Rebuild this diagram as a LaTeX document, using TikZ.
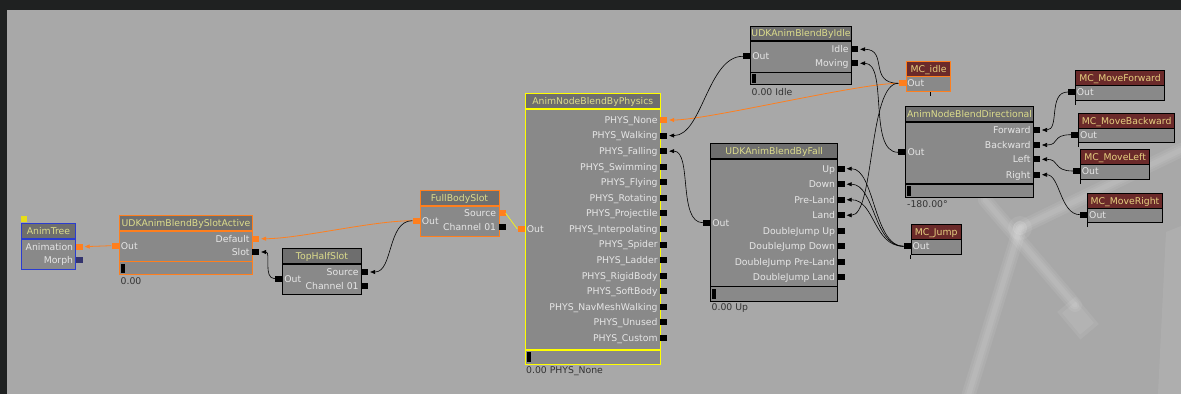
\documentclass[tikz,border=0pt]{standalone}
\usepackage{fontspec}
\setmainfont{DejaVu Sans}
\usetikzlibrary{arrows.meta}

\definecolor{canvas}{HTML}{A8A8A8}
\definecolor{framedark}{HTML}{1F2121}
\definecolor{bodygray}{HTML}{898989}
\definecolor{bargray}{HTML}{8E8E8E}
\definecolor{titlegray}{HTML}{6E6E6E}
\definecolor{titletext}{HTML}{DCDC8C}
\definecolor{labeltext}{HTML}{E6E6E6}
\definecolor{mcred}{HTML}{6B2A2A}
\definecolor{mctext}{HTML}{E6D080}
\definecolor{linkorange}{HTML}{FF7F1E}
\definecolor{hiyellow}{HTML}{FFFF00}
\definecolor{treeblue}{HTML}{2A3CD0}
\definecolor{morphblue}{HTML}{34346E}
\definecolor{valuetext}{HTML}{333333}

\tikzset{
  box/.style={anchor=north west, fill=bodygray, inner sep=0pt, line width=1pt},
  titlebar/.style={anchor=north west, fill=titlegray, text=titletext, inner sep=0pt,
    minimum height=15pt, line width=1pt, text height=6.8pt, text depth=0pt},
  mctitle/.style={titlebar, fill=mcred, text=mctext},
  pin/.style={fill=black, inner sep=0pt, minimum width=7pt, minimum height=6pt},
  opin/.style={pin, fill=linkorange},
  lbl/.style={text=labeltext, inner sep=0pt, text height=6.8pt, text depth=0pt},
  val/.style={text=valuetext, inner sep=0pt, anchor=west, text height=6.8pt, text depth=0pt},
  link/.style={draw=black, line width=0.6pt, -{Triangle[length=5pt,width=4pt]}, shorten >=2pt},
  olink/.style={link, draw=linkorange, line width=0.8pt},
  tick/.style={draw=black, line width=0.8pt},
}

\begin{document}
\begin{tikzpicture}[x=1pt, y=-1pt, font=\fontsize{9.3}{11}\selectfont]
\useasboundingbox (0,0) rectangle (1181,394);
\fill[framedark] (0,0) rectangle (1181,394);
\fill[canvas] (7,10) rectangle (1181,394);
% faint mesh behind the graph
\begin{scope}[white, opacity=0.07, line cap=round]
	\foreach \lw in {14,9,5}{
	\draw[line width=\lw pt] (967,400) -- (1020,228);
	\draw[line width=\lw pt] (1020,228) -- (1181,150);
	\draw[line width=\lw pt] (985,200) -- (1075,305);
	}
	\fill[rotate around={40:(1078,318)}] (1066,300) rectangle (1090,336);
	\fill[rotate around={40:(1078,318)}] (1069,304) rectangle (1087,332);
	\fill (1158,394) -- (1166,232) -- (1181,226) -- (1181,394) -- cycle;
	\fill (1020,228) circle (12);
	\fill (1020,228) circle (7);
\end{scope}

% AnimTree
\fill[yellow!90!black] (20.5,215.5) rectangle (26.5,222);
\node[box, draw=treeblue, minimum width=54pt, minimum height=46pt] (tree) at (21,223) {};
\node[titlebar, draw=treeblue, minimum width=54pt, minimum height=14.5pt] (tree-t) at (tree.north west) {AnimTree};
\draw[treeblue, line width=2pt] (tree-t.south west) -- (tree-t.south east);
\node[opin] (tree-anim) at (79,246.7) {};
\node[pin, fill=morphblue] (tree-morph) at (79,260.3) {};
\node[lbl, anchor=east] at ([xshift=-2pt]tree-anim.west) {Animation};
\node[lbl, anchor=east] at ([xshift=-2pt]tree-morph.west) {Morph};

% UDKAnimBlendBySlotActive
\node[box, draw=linkorange, minimum width=133pt, minimum height=59pt] (slotact) at (119,215) {};
\node[titlebar, draw=linkorange, minimum width=133pt] (slotact-t) at (slotact.north west) {UDKAnimBlendBySlotActive};
\draw[linkorange, line width=2pt] (slotact-t.south west) -- (slotact-t.south east);
\draw[linkorange, line width=1.5pt] (119,261.7) -- (252,261.7);
\fill (121,263.5) rectangle (125,273);
\node[opin] (slotact-out) at (115,245.7) {};
\node[opin] (slotact-default) at (255.5,238.7) {};
\node[pin] (slotact-slot) at (255.5,252) {};
\node[lbl, anchor=west] at ([xshift=2pt]slotact-out.east) {Out};
\node[lbl, anchor=east] at ([xshift=-2pt]slotact-default.west) {Default};
\node[lbl, anchor=east] at ([xshift=-2pt]slotact-slot.west) {Slot};
\node[val] at (120.5,281) {0.00};

% TopHalfSlot
\node[box, draw=black, minimum width=79pt, minimum height=46pt] (tophalf) at (282,248) {};
\node[titlebar, draw=black, minimum width=79pt] (tophalf-t) at (tophalf.north west) {TopHalfSlot};
\draw[black, line width=2pt] (tophalf-t.south west) -- (tophalf-t.south east);
\node[pin] (tophalf-out) at (278.5,278.7) {};
\node[pin] (tophalf-src) at (364.5,272) {};
\node[pin] (tophalf-ch) at (364.5,285.7) {};
\node[lbl, anchor=west] at ([xshift=2pt]tophalf-out.east) {Out};
\node[lbl, anchor=east] at ([xshift=-2pt]tophalf-src.west) {Source};
\node[lbl, anchor=east] at ([xshift=-2pt]tophalf-ch.west) {Channel 01};

% FullBodySlot
\node[box, draw=linkorange, minimum width=79pt, minimum height=46pt] (fullbody) at (419.5,190) {};
\node[titlebar, draw=linkorange, minimum width=79pt] (fullbody-t) at (fullbody.north west) {FullBodySlot};
\draw[linkorange, line width=2pt] (fullbody-t.south west) -- (fullbody-t.south east);
\node[opin] (fullbody-out) at (416,220.7) {};
\node[opin] (fullbody-src) at (502,213.3) {};
\node[pin] (fullbody-ch) at (502,227) {};
\node[lbl, anchor=west] at ([xshift=2pt]fullbody-out.east) {Out};
\node[lbl, anchor=east] at ([xshift=-2pt]fullbody-src.west) {Source};
\node[lbl, anchor=east] at ([xshift=-2pt]fullbody-ch.west) {Channel 01};

% AnimNodeBlendByPhysics
\node[box, draw=hiyellow, minimum width=135.5pt, minimum height=270.7pt] (phys) at (524.5,93.3) {};
\node[titlebar, draw=hiyellow, minimum width=135.5pt] (phys-t) at (phys.north west) {AnimNodeBlendByPhysics};
\draw[hiyellow, line width=2pt] (phys-t.south west) -- (phys-t.south east);
\draw[hiyellow, line width=1.5pt] (524.5,350) -- (660,350);
\fill (526.5,352) rectangle (530.5,362);
\node[opin] (phys-out) at (521,229) {};
\node[lbl, anchor=west] at ([xshift=2pt]phys-out.east) {Out};
\foreach \lab [count=\i] in {PHYS\_None, PHYS\_Walking, PHYS\_Falling, PHYS\_Swimming,
	PHYS\_Flying, PHYS\_Rotating, PHYS\_Projectile, PHYS\_Interpolating, PHYS\_Spider,
	PHYS\_Ladder, PHYS\_RigidBody, PHYS\_SoftBody, PHYS\_NavMeshWalking, PHYS\_Unused, PHYS\_Custom}{
	\node[pin] (phys-\i) at (663.5,{120+15.57*(\i-1)}) {};
	\node[lbl, anchor=east] at ([xshift=-2pt]phys-\i.west) {\lab};
}
\node[opin] at (phys-1) {};
\node[val] at (526,370) {0.00 PHYS\_None};

% UDKAnimBlendByIdle
\node[box, draw=black, minimum width=101pt, minimum height=58.3pt] (idle) at (750,26) {};
\node[titlebar, draw=black, minimum width=101pt, minimum height=14pt] (idle-t) at (idle.north west) {UDKAnimBlendByIdle};
\draw[black, line width=2pt] (idle-t.south west) -- (idle-t.south east);
\draw[black, line width=1.5pt] (750,72.3) -- (851,72.3);
\fill (751.5,73.5) rectangle (755.5,83);
\node[pin] (idle-out) at (746.5,56.3) {};
\node[pin] (idle-idle) at (854.5,49.3) {};
\node[pin] (idle-moving) at (854.5,63.3) {};
\node[lbl, anchor=west] at ([xshift=2pt]idle-out.east) {Out};
\node[lbl, anchor=east] at ([xshift=-2pt]idle-idle.west) {Idle};
\node[lbl, anchor=east] at ([xshift=-2pt]idle-moving.west) {Moving};
\node[val] at (751.5,91.7) {0.00 Idle};

% UDKAnimBlendByFall
\node[box, draw=black, minimum width=127.3pt, minimum height=157.4pt] (fall) at (710,143.3) {};
\node[titlebar, draw=black, minimum width=127.3pt] (fall-t) at (fall.north west) {UDKAnimBlendByFall};
\draw[black, line width=2pt] (fall-t.south west) -- (fall-t.south east);
\draw[black, line width=1.5pt] (710,286.7) -- (837.3,286.7);
\fill (711.5,288.5) rectangle (715.5,299);
\node[pin] (fall-out) at (706.5,222.7) {};
\node[lbl, anchor=west] at ([xshift=2pt]fall-out.east) {Out};
\foreach \lab [count=\i] in {Up, Down, Pre-Land, Land, DoubleJump Up, DoubleJump Down,
	DoubleJump Pre-Land, DoubleJump Land}{
	\node[pin] (fall-\i) at (841,{168.7+15.52*(\i-1)}) {};
	\node[lbl, anchor=east] at ([xshift=-2pt]fall-\i.west) {\lab};
}
\node[val] at (711.5,307.3) {0.00 Up};

% AnimNodeBlendDirectional
\node[box, draw=black, minimum width=127.4pt, minimum height=91pt] (dir) at (905.3,105.7) {};
\node[titlebar, draw=black, minimum width=127.4pt] (dir-t) at (dir.north west) {AnimNodeBlendDirectional};
\draw[black, line width=2pt] (dir-t.south west) -- (dir-t.south east);
\draw[black, line width=1.5pt] (905.3,184) -- (1032.7,184);
\fill (907,185.5) rectangle (911,195.5);
\node[pin] (dir-out) at (901.7,152.3) {};
\node[lbl, anchor=west] at ([xshift=2pt]dir-out.east) {Out};
\foreach \lab/\y [count=\i] in {Forward/130, Backward/145, Left/159.3, Right/174.7}{
	\node[pin] (dir-\i) at (1036.3,\y) {};
	\node[lbl, anchor=east] at ([xshift=-2pt]dir-\i.west) {\lab};
}
\node[val] at (907,204) {-180.00°};

% MC nodes
\node[box, draw=linkorange, minimum width=44.6pt, minimum height=30.3pt] (mcidle) at (905.7,60.7) {};
\node[mctitle, draw=linkorange, minimum width=44.6pt] at (mcidle.north west) {MC\_idle};
\node[opin] (mcidle-out) at (902,83.3) {};
\node[lbl, anchor=west] at ([xshift=1.5pt]mcidle-out.east) {Out};
\draw[tick] ([xshift=25pt]mcidle.south west) -- +(0,4);
\foreach \nm/\txt/\x/\y/\w in {mcfwd/MC\_MoveForward/1075/70/89, mcback/MC\_MoveBackward/1078.3/112.7/95.7,
	mcleft/MC\_MoveLeft/1080/149/69.3, mcright/MC\_MoveRight/1087.3/192.7/74.4, mcjump/MC\_Jump/910.7/224.3/50}{
	\node[box, draw=black, minimum width=\w pt, minimum height=29.5pt] (\nm) at (\x,\y) {};
	\node[mctitle, draw=black, minimum width=\w pt] at (\nm.north west) {\txt};
	\node[pin] (\nm-out) at ([xshift=-3.5pt, yshift=-22pt]\nm.north west) {};
	\node[lbl, anchor=west] at ([xshift=1.5pt]\nm-out.east) {Out};
	\draw[tick] (\nm.south west) -- +(0,4);
}

% links
\draw[olink] (slotact-out.west) -- (tree-anim.east);
\draw[olink] (fullbody-out.west) .. controls +(-40,0) and +(40,0) .. (slotact-default.east);
\draw[link] (tophalf-out.west) .. controls +(-12,0) and +(12,0) .. (slotact-slot.east);
\draw[link] (fullbody-out.west) .. controls +(-25,0) and +(25,0) .. (tophalf-src.east);
\draw[hiyellow, line width=0.6pt] (fullbody-src.east) -- (phys-out.west);
\draw[olink] (mcidle-out.west) .. controls +(-40,0) and +(40,0) .. (phys-1.east);
\draw[link] (idle-out.west) .. controls +(-35,0) and +(35,0) .. (phys-2.east);
\draw[link] (fall-out.west) .. controls +(-25,0) and +(25,0) .. (phys-3.east);
\draw[link] (mcidle-out.west) .. controls +(-30,0) and +(30,0) .. (idle-idle.east);
\draw[link] (dir-out.west) .. controls +(-30,0) and +(30,0) .. (idle-moving.east);
\draw[link] (mcidle-out.west) .. controls +(-30,0) and +(30,0) .. (fall-4.east);
\foreach \i in {1,2,3}
	\draw[link] (mcjump-out.west) .. controls +(-30,0) and +(30,0) .. (fall-\i.east);
\draw[link] (mcfwd-out.west) .. controls +(-20,0) and +(20,0) .. (dir-1.east);
\draw[link] (mcback-out.west) .. controls +(-20,0) and +(20,0) .. (dir-2.east);
\draw[link] (mcleft-out.west) .. controls +(-20,0) and +(20,0) .. (dir-3.east);
\draw[link] (mcright-out.west) .. controls +(-20,0) and +(20,0) .. (dir-4.east);
\end{tikzpicture}
\end{document}
